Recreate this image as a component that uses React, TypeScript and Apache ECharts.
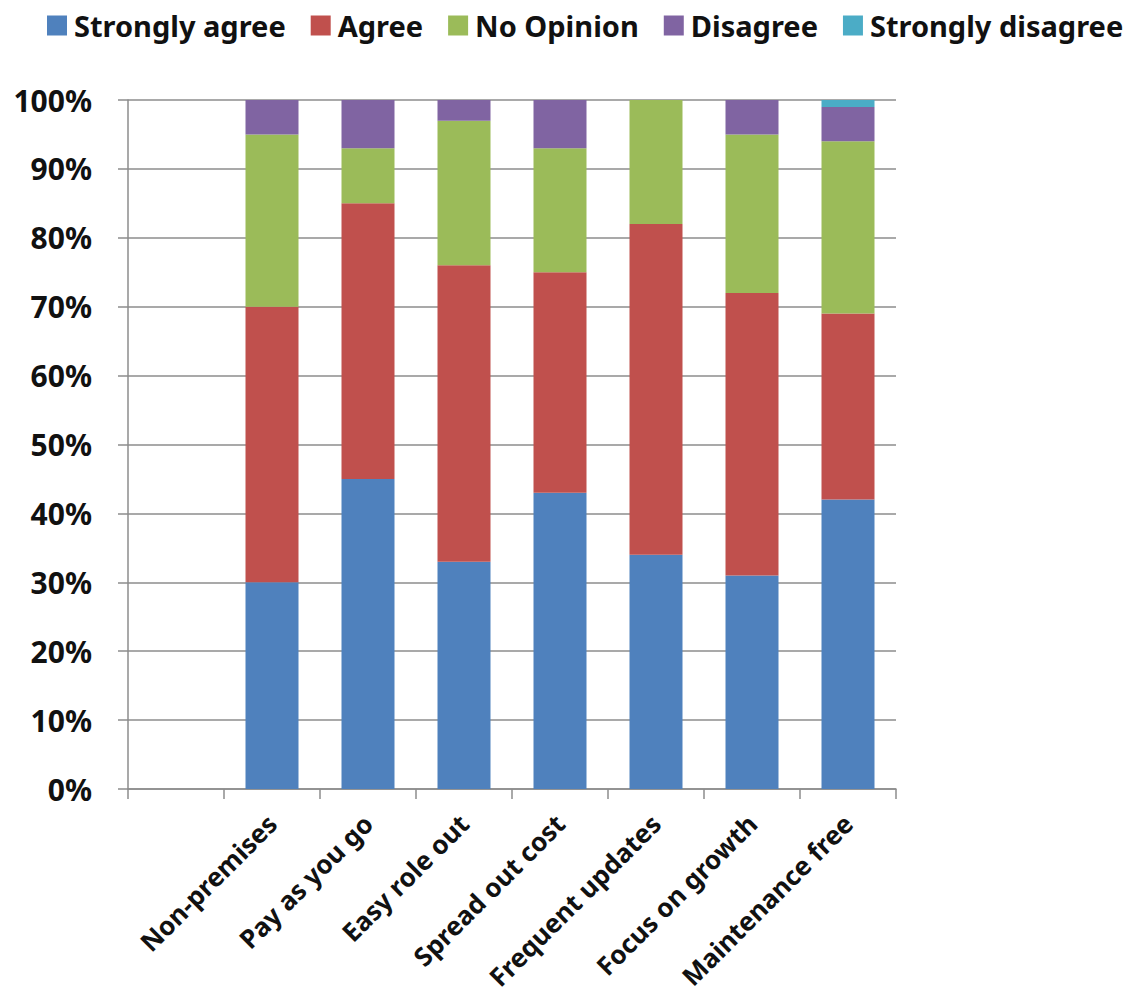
import React, { useEffect, useRef } from "react";
import * as echarts from "echarts";

// Survey responses per benefit, in percent of respondents
const categories = [
  "",
  "Non-premises",
  "Pay as you go",
  "Easy role out",
  "Spread out cost",
  "Frequent updates",
  "Focus on growth",
  "Maintenance free",
];
const stronglyAgree = [null, 30, 45, 33, 43, 34, 31, 42];
const agree = [null, 40, 40, 43, 32, 48, 41, 27];
const noOpinion = [null, 25, 8, 21, 18, 18, 23, 25];
const disagree = [null, 5, 7, 3, 7, 0, 5, 5];
const stronglyDisagree = [null, 0, 0, 0, 0, 0, 0, 1];

const seriesDefs = [
  { name: "Strongly agree", data: stronglyAgree, color: "#4F81BD" },
  { name: "Agree", data: agree, color: "#C0504D" },
  { name: "No Opinion", data: noOpinion, color: "#9BBB59" },
  { name: "Disagree", data: disagree, color: "#8064A2" },
  { name: "Strongly disagree", data: stronglyDisagree, color: "#4BACC6" },
];

const FONT = "'Noto Sans', 'Open Sans', sans-serif";

export default function App() {
  const ref = useRef<HTMLDivElement>(null);

  useEffect(() => {
    if (!ref.current) return;
    const chart = echarts.init(ref.current, undefined, { renderer: "svg" });
    chart.setOption({
      animation: false,
      backgroundColor: "#ffffff",
      legend: {
        top: 6,
        left: 42,
        itemWidth: 20,
        itemHeight: 20,
        itemGap: 25,
        icon: "rect",
        textStyle: {
          fontFamily: FONT,
          fontWeight: "bold",
          fontSize: 29,
          color: "#111",
          padding: [0, 0, 0, 2],
        },
      },
      grid: { left: 128, right: 246, top: 100, bottom: 206 },
      xAxis: {
        type: "category",
        data: categories,
        axisLine: { lineStyle: { color: "#8c8c8c", width: 1.5 } },
        axisTick: { show: true, length: 10, lineStyle: { color: "#8c8c8c", width: 1.5 } },
        axisLabel: {
          interval: 0,
          rotate: 45,
          margin: 30,
          fontFamily: FONT,
          fontWeight: "bold",
          fontSize: 26,
          color: "#111",
        },
      },
      yAxis: {
        type: "value",
        min: 0,
        max: 100,
        interval: 10,
        axisLine: { show: true, lineStyle: { color: "#8c8c8c", width: 1.5 } },
        axisTick: { show: true, length: 10, lineStyle: { color: "#8c8c8c", width: 1.5 } },
        splitLine: { lineStyle: { color: "#8c8c8c", width: 1.5 } },
        axisLabel: {
          formatter: "{value}%",
          margin: 36,
          fontFamily: FONT,
          fontWeight: "bold",
          fontSize: 30,
          color: "#111",
        },
      },
      series: seriesDefs.map((s) => ({
        name: s.name,
        type: "bar",
        stack: "total",
        barWidth: 53,
        data: s.data,
        itemStyle: { color: s.color },
      })),
    });
    return () => chart.dispose();
  }, []);

  return <div ref={ref} style={{ width: 1142, height: 995, margin: -8 }} />;
}
